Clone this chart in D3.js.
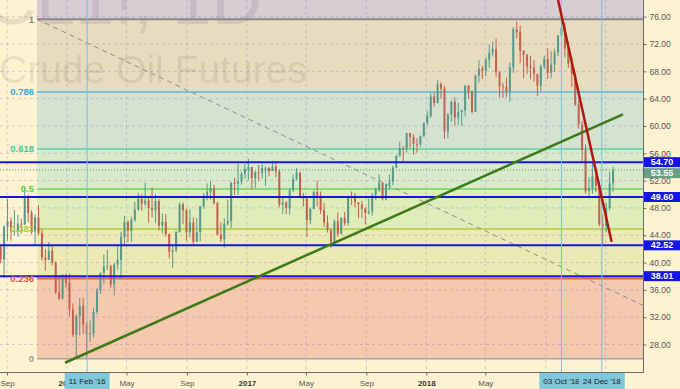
<!DOCTYPE html>
<html>
<head>
<meta charset="utf-8">
<script src="https://cdn.jsdelivr.net/npm/d3@7"></script>
<style>
  body { margin: 0; background: #fef3d0; }
  svg { display: block; font-family: "Liberation Sans", Arial, sans-serif; }
</style>
</head>
<body>
<div id="chart"></div>
<script>
// ---- data (weekly bars of CL1!, week ending Fridays) ----
const firstWeek = "2015-08-21", lastWeek = "2019-01-18";
const firstOpen = 42.5;
const closes = [40.45,45.22,46.05,44.63,44.68,45.70,45.54,49.63,47.26,44.60,46.59,44.29,40.74,40.39,41.71,39.97,35.62,34.73,38.10,37.04,
  33.16,29.42,32.19,33.62,30.89,29.44,29.64,32.78,35.92,38.50,39.44,39.46,36.79,39.72,40.36,43.73,45.92,44.66,46.21,47.75,
  49.33,48.62,49.07,47.98,47.64,48.99,45.41,45.95,44.19,41.60,41.80,44.49,48.52,47.64,44.44,45.88,43.03,44.48,48.24,49.81,
  50.35,50.85,48.70,44.07,43.41,45.69,46.06,51.68,51.50,51.90,53.02,53.72,
  53.99,52.37,53.22,53.17,53.83,53.86,53.40,54.05,53.33,48.49,48.78,47.97,50.60,52.24,53.18,49.62,49.33,46.22,47.84,50.33,
  49.80,47.66,45.83,44.74,43.01,46.04,44.23,46.54,45.77,49.71,49.58,48.82,48.51,47.87,47.29,47.48,49.89,50.66,51.67,49.29,
  51.45,51.84,53.90,55.64,56.74,56.55,58.95,58.36,57.36,57.30,58.47,60.42,
  61.44,64.30,63.37,66.14,65.45,59.20,61.68,63.55,61.25,62.04,62.34,65.88,64.94,62.06,67.39,68.38,68.10,69.72,70.70,71.28,
  67.88,65.81,65.74,65.06,68.58,74.15,73.80,71.01,70.46,68.69,68.49,67.63,65.91,68.72,69.80,67.75,68.99,70.78,73.25,74.34,
  71.34,69.12,67.59,63.14,60.19,56.46,50.42,50.93,52.61,51.20,45.59,45.33,
  47.96,51.59,53.55];
const highs = [42.6,45.5,49.3,46.6,47.7,47.0,46.4,50.9,49.9,47.7,47.0,48.4,44.9,42.0,43.0,42.4,40.2,37.9,38.3,38.4,
  38.4,34.0,32.4,34.8,34.8,31.3,31.5,33.3,36.3,38.5,41.2,41.9,39.7,39.9,42.4,44.5,46.8,46.2,46.7,48.9,
  50.2,50.0,51.7,49.6,51.0,50.0,49.3,47.2,47.1,44.2,42.5,44.6,48.8,48.8,47.9,47.8,46.6,46.5,48.3,50.2,
  51.6,51.9,51.4,48.9,45.9,46.5,49.2,51.8,52.4,54.5,53.3,54.4,
  55.2,54.0,53.4,54.3,54.5,54.1,54.0,54.9,54.6,53.7,49.5,49.0,50.9,52.9,53.8,53.2,50.2,49.5,48.1,50.5,
  52.0,50.4,48.7,46.9,45.0,46.3,47.3,46.6,47.4,49.8,50.4,50.2,48.8,49.0,48.1,49.4,50.2,51.0,52.9,51.7,
  51.6,52.9,54.2,55.7,57.7,57.1,59.0,59.0,58.8,58.2,58.6,60.5,
  62.2,64.8,64.9,66.7,66.4,65.9,61.9,63.7,64.2,63.4,62.4,66.0,66.0,65.2,67.5,69.6,68.8,70.0,71.9,72.3,
  72.8,68.0,66.3,67.1,69.3,74.5,75.3,74.7,71.1,70.5,70.3,69.6,67.6,69.0,70.3,71.4,71.0,71.3,73.3,76.3,
  75.1,72.3,70.1,67.8,63.8,60.7,57.3,52.5,54.6,53.4,51.9,47.0,
  48.8,53.3,54.0];
const lows = [39.9,37.8,43.2,43.2,44.0,43.8,44.2,45.5,45.9,44.2,42.6,44.0,40.3,38.8,40.4,39.6,35.4,34.5,34.6,36.3,
  32.1,29.1,26.2,29.3,29.6,26.05,28.4,29.0,32.4,35.4,36.8,38.9,36.3,35.2,39.0,37.6,42.6,43.0,43.0,46.0,
  47.6,47.6,48.3,45.8,46.6,45.8,44.7,44.3,43.8,40.6,39.2,41.5,44.4,45.6,43.2,43.7,42.5,43.0,43.1,47.9,
  49.1,49.2,48.5,44.0,43.0,42.2,45.4,45.0,49.9,49.9,51.4,52.3,
  52.1,50.7,50.9,52.0,52.3,51.2,52.6,53.4,52.5,48.1,47.1,47.1,47.0,50.3,52.0,49.4,48.2,43.8,45.6,47.8,
  48.2,47.1,45.2,44.4,42.1,42.9,43.8,44.1,45.4,45.4,48.4,48.1,46.5,46.5,45.6,47.0,46.9,49.2,50.3,49.1,
  49.1,50.7,51.3,53.8,55.5,54.8,56.1,56.8,55.8,56.1,56.9,58.4,
  60.1,61.2,62.8,63.3,64.0,58.1,58.2,60.6,60.0,60.2,60.0,61.4,64.0,61.8,62.5,66.3,66.9,67.3,68.5,70.2,
  67.2,64.2,64.1,64.2,63.6,67.8,72.8,69.2,67.0,67.6,66.9,66.5,64.4,65.1,68.3,66.9,67.0,67.9,70.2,73.1,
  70.1,68.5,65.7,62.9,59.6,54.8,50.1,49.4,50.1,50.3,45.3,42.4,
  44.4,47.6,50.4];

// price scale ticks
const priceTicks = [28,32,36,40,44,48,52,56,60,64,68,72,76];

// fibonacci retracement
const fibStart = "2015-11-01", fibEnd = "2019-11-03";
const fibHigh = 75.62, fibLow = 25.92;
const fibLevels = [1, 0.786, 0.618, 0.5, 0.382, 0.236, 0];
const fibLabels = ["1", "0.786", "0.618", "0.5", "0.382", "0.236", "0"];

// horizontal levels and last price
const hLevels = [54.70, 49.60, 42.52, 38.01];
const lastPrice = 53.55;

// marked dates
const markDates = ["2016-02-11", "2018-10-03", "2018-12-24"];
const markLabels = ["11 Feb '16", "03 Oct '18", "24 Dec '18"];

// trend lines [date, price]
const greenTrend = [["2015-12-28", 25.33], ["2019-02-05", 61.71]];
const redTrend = [["2018-09-26", 78.45], ["2019-01-13", 43.05]];

// ---- styles ----
const fibLineColors = ["#8a8a8a", "#5ab4dc", "#5ccfa6", "#6cd266", "#a9d044", "#e2643c", "#a3a3a3"];
const fibTextColors = ["#8a8a8a", "#3aa5d8", "#3fc69c", "#55cc44", "#a7c93e", "#e0533e", "#999999"];
const topZoneColor = "#d9ccd3";
const fibZoneColors = ["#e8dcbe", "#d6e2d0", "#d9eacb", "#e1ecbb", "#ece9b4", "#f5c9ad"];

const W = 680, H = 389, plotW = 643, plotH = 372;
const parse = d3.timeParse("%Y-%m-%d");

const svg = d3.select("#chart").append("svg")
    .attr("width", W)
    .attr("height", H);

svg.append("rect").attr("width", W).attr("height", H).attr("fill", "#fef3d0");

// time scale calibrated on year starts, then widened to the plot
const x0 = d3.scaleTime()
  .domain([new Date(2016, 0, 1), new Date(2018, 0, 1)])
  .range([67, 426.3]);
const x = x0.copy().domain([x0.invert(0), x0.invert(plotW)]).range([0, plotW]);
const y = d3.scaleLinear().domain([28, 76]).range([344.5, 16.7]);

svg.append("clipPath").attr("id", "plot-clip")
  .append("rect").attr("width", plotW).attr("height", plotH);
const plot = svg.append("g").attr("clip-path", "url(#plot-clip)");

// fib zones
const fibPrice = l => fibLow + (fibHigh - fibLow) * l;
const zx = x(parse(fibStart));
plot.append("rect")
  .attr("x", zx).attr("y", 0)
  .attr("width", plotW - zx).attr("height", y(fibPrice(1)))
  .attr("fill", topZoneColor);
plot.selectAll(".zone")
  .data(fibLevels.slice(0, -1))
  .enter().append("rect")
    .attr("x", zx)
    .attr("y", d => y(fibPrice(d)))
    .attr("width", plotW - zx)
    .attr("height", (d, i) => y(fibPrice(fibLevels[i + 1])) - y(fibPrice(d)))
    .attr("fill", (d, i) => fibZoneColors[i]);

// grid
const timeTicks = x.ticks(d3.timeMonth.every(4));
plot.selectAll(".vgrid")
  .data(timeTicks)
  .enter().append("line")
    .attr("x1", d => x(d)).attr("x2", d => x(d))
    .attr("y1", 0).attr("y2", plotH)
    .attr("stroke", "rgba(130,130,200,0.35)")
    .attr("stroke-dasharray", "3,3");
plot.selectAll(".hgrid")
  .data(priceTicks)
  .enter().append("line")
    .attr("x1", 0).attr("x2", plotW)
    .attr("y1", d => y(d)).attr("y2", d => y(d))
    .attr("stroke", "rgba(130,130,200,0.35)")
    .attr("stroke-dasharray", "3,3");

// watermark
plot.append("text")
  .attr("x", 262).attr("y", 24)
  .attr("text-anchor", "end")
  .attr("font-size", 70)
  .attr("fill", "rgba(90,80,90,0.13)")
  .text("CL1!, 1D");
plot.append("text")
  .attr("x", -1).attr("y", 83)
  .attr("font-size", 39)
  .attr("fill", "rgba(90,80,70,0.14)")
  .text("Crude Oil Futures");

// fib level lines and labels
plot.selectAll(".fibline")
  .data(fibLevels)
  .enter().append("line")
    .attr("x1", zx).attr("x2", plotW)
    .attr("y1", d => y(fibPrice(d))).attr("y2", d => y(fibPrice(d)))
    .attr("stroke", (d, i) => fibLineColors[i])
    .attr("stroke-width", (d, i) => (i === 0 || i === 5) ? 2 : 1.5);
svg.selectAll(".fiblabel")
  .data(fibLevels)
  .enter().append("text")
    .attr("x", 34)
    .attr("y", d => y(fibPrice(d)))
    .attr("dy", "0.35em")
    .attr("text-anchor", "end")
    .attr("font-size", 9.5)
    .attr("font-weight", "bold")
    .attr("fill", (d, i) => fibTextColors[i])
    .text((d, i) => fibLabels[i]);

// fib diagonal
plot.append("line")
  .attr("x1", x(parse(fibStart))).attr("y1", y(fibHigh))
  .attr("x2", x(parse(fibEnd))).attr("y2", y(fibLow))
  .attr("stroke", "#8c8c8c")
  .attr("stroke-dasharray", "5,4");

// candles
const weeks = d3.timeFriday.range(parse(firstWeek), d3.timeDay.offset(parse(lastWeek), 1));
const bars = weeks.map((d, i) => ({
  date: d3.timeDay.offset(d, -2),
  open: i === 0 ? firstOpen : closes[i - 1],
  close: closes[i], high: highs[i], low: lows[i]
}));
const up = "#56998a", down = "#c4604f";
const candle = plot.selectAll(".candle")
  .data(bars)
  .enter().append("g");
candle.append("line")
  .attr("x1", d => x(d.date)).attr("x2", d => x(d.date))
  .attr("y1", d => y(d.high)).attr("y2", d => y(d.low))
  .attr("stroke", d => d.close >= d.open ? up : down)
  .attr("stroke-width", 1);
candle.append("rect")
  .attr("x", d => x(d.date) - 1)
  .attr("width", 2)
  .attr("y", d => y(Math.max(d.open, d.close)))
  .attr("height", d => Math.max(0.8, Math.abs(y(d.open) - y(d.close))))
  .attr("fill", d => d.close >= d.open ? up : down);

// last price dotted line
plot.append("line")
  .attr("x1", 0).attr("x2", plotW)
  .attr("y1", y(lastPrice)).attr("y2", y(lastPrice))
  .attr("stroke", "#4f9a78")
  .attr("stroke-dasharray", "1,2");

// blue horizontal levels
plot.selectAll(".hlevel")
  .data(hLevels)
  .enter().append("line")
    .attr("x1", 0).attr("x2", plotW)
    .attr("y1", d => y(d)).attr("y2", d => y(d))
    .attr("stroke", "#1414e6")
    .attr("stroke-width", 2);

// vertical date lines
plot.selectAll(".vmark")
  .data(markDates)
  .enter().append("line")
    .attr("x1", d => x(parse(d))).attr("x2", d => x(parse(d)))
    .attr("y1", 0).attr("y2", plotH)
    .attr("stroke", "#74c3dc")
    .attr("stroke-width", 1);

// trend lines
const trendLine = d3.line()
  .x(d => x(parse(d[0])))
  .y(d => y(d[1]));
plot.append("path")
  .datum(greenTrend)
  .attr("d", trendLine)
  .attr("stroke", "#3b7a16")
  .attr("stroke-width", 2.5)
  .attr("fill", "none");
plot.append("path")
  .datum(redTrend)
  .attr("d", trendLine)
  .attr("stroke", "#b0180e")
  .attr("stroke-width", 2.5)
  .attr("fill", "none");

// frame
svg.append("line").attr("x1", plotW + 0.5).attr("x2", plotW + 0.5)
  .attr("y1", 0).attr("y2", plotH + 0.5).attr("stroke", "#6a6a6a");
svg.append("line").attr("x1", 0).attr("x2", plotW + 0.5)
  .attr("y1", plotH + 0.5).attr("y2", plotH + 0.5).attr("stroke", "#6a6a6a");

// right price axis
const yAxis = svg.append("g")
  .attr("transform", `translate(${plotW + 0.5},0)`)
  .call(d3.axisRight(y).tickValues(priceTicks).tickSize(3).tickFormat(d3.format(".2f")));
yAxis.select(".domain").remove();
yAxis.selectAll("line").attr("stroke", "#6a6a6a");
yAxis.selectAll("text")
  .attr("x", 6)
  .attr("font-size", 8.5)
  .attr("font-family", "Liberation Sans, Arial, sans-serif")
  .attr("fill", "#555");

// price boxes (pushed down when they overlap)
const boxes = hLevels.map(v => ({v: v, fill: "#1414e6"}))
  .concat([{v: lastPrice, fill: "#679e85"}])
  .sort((a, b) => b.v - a.v);
let prevY = -100;
boxes.forEach(b => {
  b.cy = Math.max(y(b.v), prevY + 11);
  prevY = b.cy;
});
const box = svg.selectAll(".pbox")
  .data(boxes)
  .enter().append("g")
    .attr("transform", d => `translate(${plotW + 1},${d.cy})`);
box.append("rect")
  .attr("x", 0).attr("y", -5)
  .attr("width", W - plotW).attr("height", 10)
  .attr("fill", d => d.fill);
box.append("text")
  .attr("x", 18).attr("dy", "0.35em")
  .attr("text-anchor", "middle")
  .attr("font-size", 9)
  .attr("font-weight", "bold")
  .attr("fill", "#fff")
  .text(d => d3.format(".2f")(d.v));

// bottom time axis; labels fully covered by a date box are not drawn
const covered = d => markDates.some(m => Math.abs(x(parse(m)) - x(d)) < 18);
const xAxis = svg.append("g")
  .attr("transform", `translate(0,${plotH + 0.5})`)
  .call(d3.axisBottom(x).tickValues(timeTicks).tickSize(3)
    .tickFormat(d => covered(d) ? "" : (d.getMonth() === 0 ? d3.timeFormat("%Y")(d) : d3.timeFormat("%b")(d))));
xAxis.select(".domain").remove();
xAxis.selectAll("line").attr("stroke", "#6a6a6a");
xAxis.selectAll("text")
  .attr("y", 8)
  .attr("font-size", 8)
  .attr("font-family", "Liberation Sans, Arial, sans-serif")
  .attr("font-weight", d => d.getMonth() === 0 ? "bold" : "normal")
  .attr("fill", d => d.getMonth() === 0 ? "#333" : "#555");

// date boxes
markDates.forEach((d, i) => {
  const g = svg.append("g").attr("transform", `translate(${x(parse(d))},${plotH + 1})`);
  const t = g.append("text")
    .attr("y", 11)
    .attr("text-anchor", "middle")
    .attr("font-size", 8)
    .attr("fill", "#222")
    .text(markLabels[i]);
  const w = t.node().getComputedTextLength() + 8;
  g.insert("rect", "text")
    .attr("x", -w / 2).attr("y", 0)
    .attr("width", w).attr("height", H - plotH)
    .attr("fill", "#7fc7da");
});
</script>
</body>
</html>
